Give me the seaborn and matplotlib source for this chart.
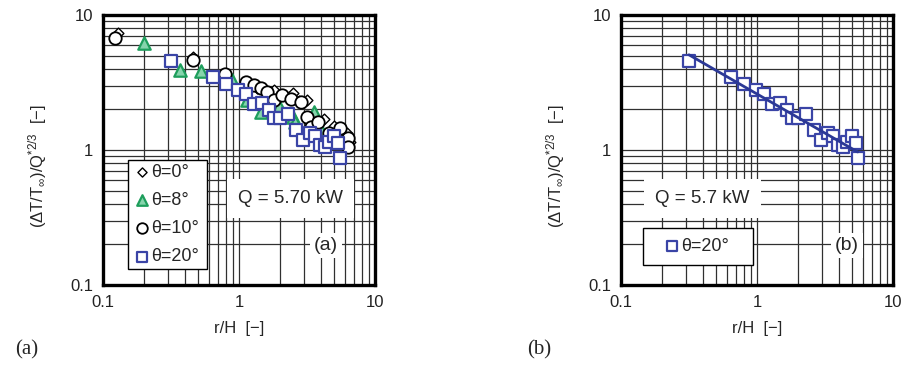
import numpy as np
import pandas as pd
import matplotlib
matplotlib.use("Agg")
import matplotlib.pyplot as plt
from matplotlib.patches import Rectangle
from matplotlib.ticker import LogLocator, NullFormatter, FixedLocator, FixedFormatter
import seaborn as sns

# --- data: dimensionless ceiling-jet temperature vs radial distance ---
r_0 = [0.13, 0.46, 1.35, 1.6, 1.8, 2.05, 2.33, 2.5, 2.75, 3.15, 4.2, 5.0, 5.8, 6.2, 6.6]
t_0 = [7.3, 4.9, 2.9, 2.75, 2.78, 2.55, 2.48, 2.63, 2.3, 2.35, 1.7, 1.5, 1.38, 1.33, 1.15]

r_8 = [0.2, 0.366, 0.526, 0.89, 1.15, 1.46, 1.97, 2.49, 2.6, 3.55, 4.0]
t_8 = [6.23, 3.91, 3.85, 3.3, 2.35, 1.92, 2.12, 1.77, 1.6, 1.92, 1.41]

r_10 = [0.122, 0.456, 0.79, 1.12, 1.29, 1.44, 1.62, 1.8, 2.08, 2.4, 2.85,
        3.15, 3.37, 3.8, 4.6, 5.5, 6.3, 6.3]
t_10 = [6.72, 4.64, 3.66, 3.2, 3.03, 2.87, 2.7, 2.35, 2.56, 2.4, 2.28,
        1.75, 1.49, 1.6, 1.33, 1.45, 1.22, 1.06]

r_20 = [0.316, 0.64, 0.8, 0.98, 1.13, 1.3, 1.47, 1.65, 1.81, 2.0, 2.29,
        2.62, 2.94, 3.3, 3.6, 3.96, 4.3, 4.58, 5.0, 5.3, 5.5]
t_20 = [4.56, 3.46, 3.07, 2.78, 2.59, 2.18, 2.22, 1.97, 1.72, 1.72, 1.84,
        1.41, 1.18, 1.33, 1.26, 1.08, 1.06, 1.15, 1.26, 1.12, 0.87]

# power-law correlation for theta = 20 deg
fit_coef = 2.6
fit_exp = -0.58
fit_range = [0.316, 5.5]

series_labels = ["θ=0°", "θ=8°", "θ=10°", "θ=20°"]
tick_values = [0.1, 1, 10]
tick_labels = ["0.1", "1", "10"]

sns.set_theme(style="white")
plt.rcParams["font.family"] = ["Liberation Sans", "DejaVu Sans"]
plt.rcParams["mathtext.fontset"] = "custom"
plt.rcParams["mathtext.rm"] = "Liberation Sans"
plt.rcParams["mathtext.it"] = "Liberation Sans"
plt.rcParams["mathtext.bf"] = "Liberation Sans:bold"

blue = "#3A44A6"
line_blue = "#2B3896"
green_edge = "#1E9E5C"
green_fill = "#86D4AC"

styles = {
    "θ=0°": dict(marker="D", s=30, facecolor="white", edgecolor="black", linewidth=1.0),
    "θ=8°": dict(marker="^", s=80, facecolor=green_fill, edgecolor=green_edge, linewidth=1.6),
    "θ=10°": dict(marker="o", s=80, facecolor="white", edgecolor="black", linewidth=1.3),
    "θ=20°": dict(marker="s", s=85, facecolor="white", edgecolor=blue, linewidth=1.6),
}

frames = []
for lab, r, t in zip(series_labels, [r_0, r_8, r_10, r_20], [t_0, t_8, t_10, t_20]):
    frames.append(pd.DataFrame({"r": r, "t": t, "case": lab}))
df = pd.concat(frames, ignore_index=True)

fig = plt.figure(figsize=(9.05, 3.66), dpi=100)
ax_a = fig.add_axes([103 / 905, 81 / 366, 272 / 905, 270 / 366])
ax_b = fig.add_axes([621 / 905, 81 / 366, 272 / 905, 270 / 366])


def style_axes(ax):
    ax.set_xscale("log")
    ax.set_yscale("log")
    ax.set_xlim(0.1, 10)
    ax.set_ylim(0.1, 10)
    for axis in (ax.xaxis, ax.yaxis):
        axis.set_major_locator(FixedLocator(tick_values))
        axis.set_major_formatter(FixedFormatter(tick_labels))
        axis.set_minor_locator(LogLocator(base=10, subs=np.arange(2, 10)))
        axis.set_minor_formatter(NullFormatter())
    ax.grid(True, which="both", color="#303030", linewidth=0.9)
    ax.set_axisbelow(True)
    ax.tick_params(which="both", length=0, labelsize=12, pad=7, colors="#222222")
    for sp in ax.spines.values():
        sp.set_visible(True)
        sp.set_color("black")
        sp.set_linewidth(2.4)
    ax.set_xlabel("r/H  [−]", fontsize=12, labelpad=8)
    ax.set_ylabel(r"$(\Delta\mathrm{T/T_\infty})/\mathrm{Q}^{*2/3}$  [−]", fontsize=12)
    ax.yaxis.set_label_coords(-0.2, 0.44)


def legend_box(ax, x0, y0, x1, y1):
    ax.add_patch(Rectangle((x0, y0), x1 - x0, y1 - y0, transform=ax.transAxes,
                           facecolor="white", edgecolor="black", linewidth=1.0, zorder=6))


# (a) all inclination angles
for lab in series_labels:
    sub = df[df["case"] == lab]
    sns.scatterplot(data=sub, x="r", y="t", ax=ax_a, label=lab, zorder=3, **styles[lab])
style_axes(ax_a)
legend_box(ax_a, 0.092, 0.059, 0.382, 0.463)
leg = ax_a.legend(loc="center", bbox_to_anchor=(0.237, 0.261), fontsize=13,
                  frameon=False, markerscale=0.85,
                  handlelength=0.6, handletextpad=0.2, labelspacing=0.62, borderpad=0)
leg.set_zorder(7)
ax_a.text(0.69, 0.32, "Q = 5.70 kW", transform=ax_a.transAxes, ha="center", va="center",
          fontsize=13.5, bbox=dict(facecolor="white", edgecolor="none", pad=8), zorder=5)
ax_a.text(0.82, 0.145, "(a)", transform=ax_a.transAxes, ha="center", va="center",
          fontsize=14, bbox=dict(facecolor="white", edgecolor="none", pad=3), zorder=5)

# (b) theta = 20 deg with correlation line
sub20 = df[df["case"] == "θ=20°"]
sns.scatterplot(data=sub20, x="r", y="t", ax=ax_b, label="θ=20°", zorder=3, **styles["θ=20°"])
r_fit = np.array(fit_range)
sns.lineplot(x=r_fit, y=fit_coef * r_fit ** fit_exp, ax=ax_b, color=line_blue,
             linewidth=2.0, zorder=4, legend=False)
style_axes(ax_b)
legend_box(ax_b, 0.081, 0.074, 0.485, 0.211)
leg_b = ax_b.legend(loc="center", bbox_to_anchor=(0.283, 0.1425), fontsize=13,
                    frameon=False, markerscale=0.85,
                    handlelength=0.6, handletextpad=0.2, borderpad=0)
leg_b.set_zorder(7)
ax_b.text(0.30, 0.32, "Q = 5.7 kW", transform=ax_b.transAxes, ha="center", va="center",
          fontsize=13.5, bbox=dict(facecolor="white", edgecolor="none", pad=8), zorder=5)
ax_b.text(0.83, 0.145, "(b)", transform=ax_b.transAxes, ha="center", va="center",
          fontsize=14, bbox=dict(facecolor="white", edgecolor="none", pad=3), zorder=5)

fig.text(15 / 905, 1 - 350 / 366, "(a)", fontsize=15, family="Liberation Serif",
         ha="left", va="center")
fig.text(527 / 905, 1 - 350 / 366, "(b)", fontsize=15, family="Liberation Serif",
         ha="left", va="center")

fig.savefig("out.png", dpi=100, facecolor="white")
